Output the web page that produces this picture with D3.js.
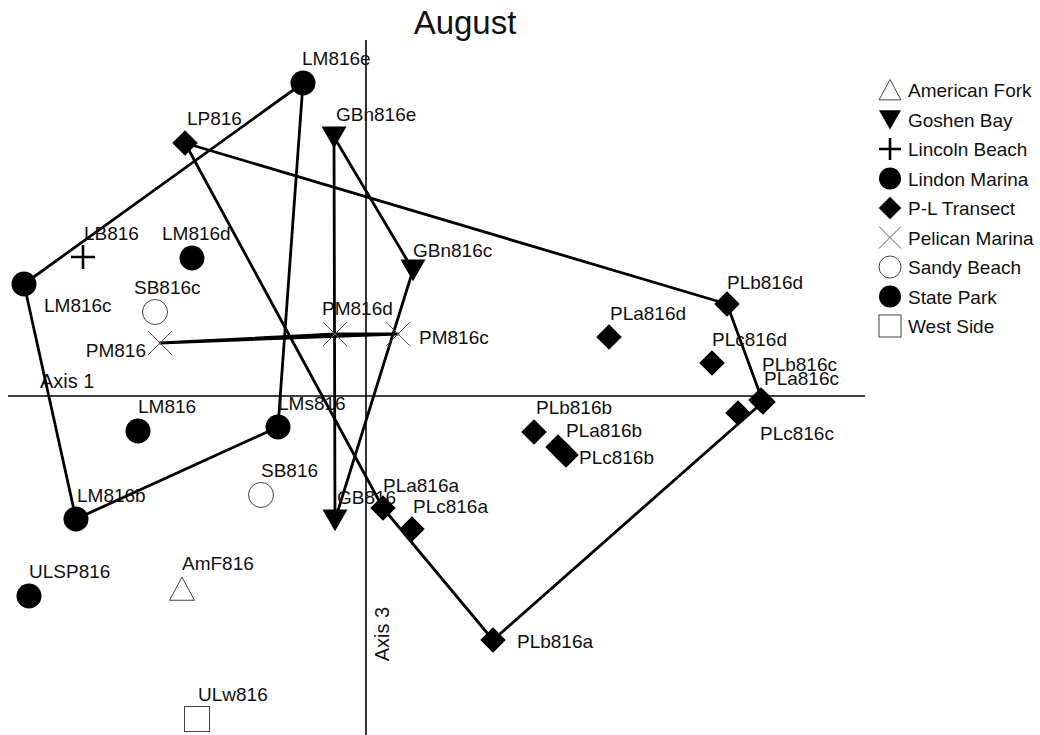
<!DOCTYPE html>
<html>
<head>
<meta charset="utf-8">
<script src="https://cdn.jsdelivr.net/npm/d3@7"></script>
<style>
  body { margin: 0; background: #fff; }
  text { font-family: Arial, "Liberation Sans", sans-serif; fill: #111; }
</style>
</head>
<body>
<div id="chart"></div>
<script>
// site names, groups and ordination scores (Axis 1, Axis 3)
const sites = ["LM816e", "LP816", "GBn816e", "LB816", "LM816d", "GBn816c", "LM816c", "SB816c",
  "PM816", "PM816d", "PM816c", "PLa816d", "PLb816d", "PLc816d", "PLb816c", "PLa816c", "PLc816c",
  "LM816", "LMs816", "PLb816b", "PLa816b", "PLc816b", "SB816", "GB816", "PLa816a", "PLc816a",
  "LM816b", "ULSP816", "AmF816", "PLb816a", "ULw816"];
const groups = ["Lindon Marina", "P-L Transect", "Goshen Bay", "Lincoln Beach", "Lindon Marina", "Goshen Bay",
  "Lindon Marina", "Sandy Beach", "Pelican Marina", "Pelican Marina", "Pelican Marina", "P-L Transect",
  "P-L Transect", "P-L Transect", "P-L Transect", "P-L Transect", "P-L Transect", "Lindon Marina",
  "Lindon Marina", "P-L Transect", "P-L Transect", "P-L Transect", "Sandy Beach", "Goshen Bay",
  "P-L Transect", "P-L Transect", "Lindon Marina", "State Park", "American Fork", "P-L Transect", "West Side"];
const axis1 = [-0.315, -0.905, -0.16, -1.415, -0.87, 0.235, -1.71, -1.055, -1.03, -0.155, 0.16, 1.215,
  1.805, 1.73, 1.985, 1.975, 1.86, -1.14, -0.44, 0.84, 0.96, 1.0, -0.525, -0.155, 0.085, 0.23,
  -1.45, -1.685, -0.92, 0.635, -0.845];
const axis3 = [1.565, 1.265, 1.295, 0.695, 0.69, 0.63, 0.56, 0.42, 0.265, 0.31, 0.31, 0.295,
  0.46, 0.165, -0.03, -0.02, -0.085, -0.175, -0.155, -0.18, -0.255, -0.295, -0.495, -0.62, -0.56, -0.665,
  -0.615, -1.0, -0.965, -1.22, -1.615];

// outlines joining the sites of a group
const hulls = [
  ["LM816c", "LM816e", "LMs816", "LM816b"],
  ["GBn816e", "GBn816c", "GB816"],
  ["PM816", "PM816d", "PM816c"],
  ["LP816", "PLb816d", "PLb816c", "PLb816a", "PLa816a"]
];

const legendNames = ["American Fork", "Goshen Bay", "Lincoln Beach", "Lindon Marina", "P-L Transect",
  "Pelican Marina", "Sandy Beach", "State Park", "West Side"];
const legendShapes = ["triUp", "triDown", "plus", "circle", "diamond", "cross", "openCircle", "circle", "square"];

// label placement (offset from the marker, anchor)
const labelPos = {
  LM816e: [-1, -18], LP816: [2, -18], GBn816e: [2, -16], LB816: [1, -17], LM816d: [-30, -18],
  GBn816c: [0, -13], LM816c: [20, 28], SB816c: [-21, -18], PM816: [-14, 14, "end"], PM816d: [-13, -19],
  PM816c: [21, 10], PLa816d: [1, -17], PLb816d: [0, -15], PLc816d: [0, -17], PLb816c: [-1, -31],
  PLa816c: [3, -15], PLc816c: [22, 27], LM816: [0, -18], LMs816: [0, -17], PLb816b: [2, -18],
  PLa816b: [8, -10], PLc816b: [13, 9], SB816: [0, -18], GB816: [2, -16], PLa816a: [0, -16],
  PLc816a: [1, -16], LM816b: [1, -17], ULSP816: [0, -18], AmF816: [0, -19], PLb816a: [24, 8], ULw816: [1, -18]
};

const W = 1040, H = 735;
const svg = d3.select("#chart").append("svg")
  .attr("width", W)
  .attr("height", H);

const x = d3.scaleLinear().domain([-1.79, 2.495]).range([8, 865]);
const y = d3.scaleLinear().domain([1.78, -1.695]).range([40, 735]);

const groupShape = {};
legendNames.forEach((g, i) => groupShape[g] = legendShapes[i]);

const data = sites.map((s, i) => ({ name: s, group: groups[i], a1: axis1[i], a3: axis3[i] }));
const byName = {};
data.forEach(d => byName[d.name] = d);

// title
svg.append("text")
  .attr("x", 465)
  .attr("y", 34)
  .attr("text-anchor", "middle")
  .style("font-size", "33px")
  .text("August");

// axes through the origin
svg.append("line")
  .attr("x1", x.range()[0]).attr("x2", x.range()[1])
  .attr("y1", y(0)).attr("y2", y(0))
  .attr("stroke", "#000").attr("stroke-width", 1.6);
svg.append("line")
  .attr("x1", x(0)).attr("x2", x(0))
  .attr("y1", y.range()[0]).attr("y2", y.range()[1])
  .attr("stroke", "#000").attr("stroke-width", 1.6);

svg.append("text")
  .attr("x", 40)
  .attr("y", y(0) - 8)
  .style("font-size", "20px")
  .text("Axis 1");
svg.append("text")
  .attr("transform", `translate(${x(0) + 23},634) rotate(-90)`)
  .attr("text-anchor", "middle")
  .style("font-size", "20px")
  .text("Axis 3");

// group outlines
const line = d3.line().x(d => x(d.a1)).y(d => y(d.a3)).curve(d3.curveLinearClosed);
svg.selectAll(".hull")
  .data(hulls)
  .enter()
  .append("path")
  .attr("class", "hull")
  .attr("d", h => line(h.map(n => byName[n])))
  .attr("fill", "none")
  .attr("stroke", "#000")
  .attr("stroke-width", 2.8)
  .attr("stroke-linejoin", "round");

function drawShape(g, shape, r) {
  if (shape === "circle") {
    g.append("circle").attr("r", r).attr("fill", "#000");
  } else if (shape === "openCircle") {
    g.append("circle").attr("r", r).attr("fill", "#fff").attr("stroke", "#444").attr("stroke-width", 1);
  } else if (shape === "diamond") {
    const s = r * 1.02;
    g.append("path").attr("d", `M0,${-s}L${s},0L0,${s}L${-s},0Z`).attr("fill", "#000");
  } else if (shape === "triDown") {
    g.append("path").attr("d", `M${-r},${-r * 0.85}L${r},${-r * 0.85}L0,${r * 0.9}Z`).attr("fill", "#000");
  } else if (shape === "triUp") {
    g.append("path").attr("d", `M0,${-r * 0.95}L${r},${r * 0.9}L${-r},${r * 0.9}Z`)
      .attr("fill", "#fff").attr("stroke", "#444").attr("stroke-width", 1);
  } else if (shape === "square") {
    g.append("rect").attr("x", -r).attr("y", -r).attr("width", 2 * r).attr("height", 2 * r)
      .attr("fill", "#fff").attr("stroke", "#444").attr("stroke-width", 1);
  } else if (shape === "plus") {
    g.append("path").attr("d", `M${-r},0H${r}M0,${-r}V${r}`).attr("stroke", "#000").attr("stroke-width", 2.6);
  } else if (shape === "cross") {
    g.append("path").attr("d", `M${-r},${-r}L${r},${r}M${r},${-r}L${-r},${r}`)
      .attr("stroke", "#555").attr("stroke-width", 1);
  }
}

// markers
const pts = svg.selectAll(".pt")
  .data(data)
  .enter()
  .append("g")
  .attr("class", "pt")
  .attr("transform", d => `translate(${x(d.a1)},${y(d.a3)})`);
pts.each(function (d) {
  const shape = groupShape[d.group];
  drawShape(d3.select(this), shape, shape === "cross" || shape === "plus" ? 12 : 12.5);
});

// labels
svg.selectAll(".label")
  .data(data)
  .enter()
  .append("text")
  .attr("class", "label")
  .attr("x", d => x(d.a1) + labelPos[d.name][0])
  .attr("y", d => y(d.a3) + labelPos[d.name][1])
  .attr("text-anchor", d => labelPos[d.name][2] || "start")
  .style("font-size", "19px")
  .text(d => d.name);

// legend
const legend = svg.selectAll(".legend")
  .data(legendNames)
  .enter()
  .append("g")
  .attr("class", "legend")
  .attr("transform", (d, i) => `translate(890,${90 + i * 29.5})`);
legend.each(function (d, i) {
  drawShape(d3.select(this), legendShapes[i], 11);
});
legend.append("text")
  .attr("x", 18)
  .attr("y", 7)
  .style("font-size", "19px")
  .text(d => d);
</script>
</body>
</html>
